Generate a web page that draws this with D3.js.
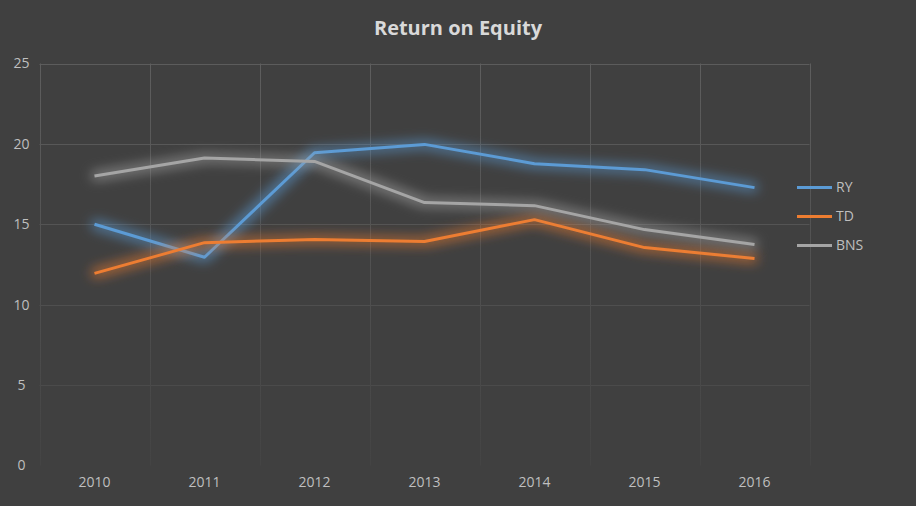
<!DOCTYPE html>
<html><head><meta charset="utf-8">
<script src="https://cdn.jsdelivr.net/npm/d3@7/dist/d3.min.js"></script>
<style>
html,body{margin:0;padding:0;background:#404040;}
svg{display:block;font-family:"Open Sans","Noto Sans",sans-serif;}
</style></head><body>
<svg id="c" width="916" height="506"></svg>
<script>
const years = ["2010","2011","2012","2013","2014","2015","2016"];
const ryValues  = [15.0, 12.95, 19.45, 19.97, 18.77, 18.4, 17.28];
const tdValues  = [11.95, 13.86, 14.05, 13.93, 15.29, 13.55, 12.87];
const bnsValues = [18.0, 19.12, 18.91, 16.35, 16.16, 14.67, 13.74];
const seriesNames = ["RY","TD","BNS"];
const seriesColors = ["#5b9bd5","#ed7d31","#a5a5a5"];
const yTicks = [0,5,10,15,20,25];
const title = "Return on Equity";

const series = [
  {name: seriesNames[0], values: ryValues, color: seriesColors[0]},
  {name: seriesNames[1], values: tdValues, color: seriesColors[1]},
  {name: seriesNames[2], values: bnsValues, color: seriesColors[2]}
];

const svg = d3.select("#c");
const L = 39.5, R = 809.5, T = 63.5, B = 465.5;
const x = d3.scaleBand().domain(years).range([L, R]);
const y = d3.scaleLinear().domain([0, 25]).range([B, T]);

const defs = svg.append("defs");
const gV = defs.append("linearGradient").attr("id","gv").attr("gradientUnits","userSpaceOnUse")
  .attr("x1",0).attr("y1",T).attr("x2",0).attr("y2",B);
gV.append("stop").attr("offset","0").attr("stop-color","#5e5e5e");
gV.append("stop").attr("offset","1").attr("stop-color","#444444");

series.forEach((s,i)=>{
  const f = defs.append("filter").attr("id","glow"+i)
    .attr("x","-10%").attr("y","-50%").attr("width","120%").attr("height","200%");
  f.append("feMorphology").attr("in","SourceGraphic").attr("operator","dilate").attr("radius",3).attr("result","d");
  f.append("feGaussianBlur").attr("in","d").attr("stdDeviation",6).attr("result","b");
  f.append("feComponentTransfer").attr("in","b").attr("result","b2")
    .append("feFuncA").attr("type","linear").attr("slope",0.6);
  const m = f.append("feMerge");
  m.append("feMergeNode").attr("in","b2");
  m.append("feMergeNode").attr("in","SourceGraphic");
});

svg.append("rect").attr("width",916).attr("height",506).attr("fill","#404040");

// horizontal gridlines
const hColor = d3.scaleLinear().domain([25,0]).range(["#5c5c5c","#474747"]);
svg.append("g").selectAll("line").data(yTicks.filter(d=>d>0)).join("line")
  .attr("x1",L).attr("x2",R).attr("y1",d=>Math.round(y(d))+0.5).attr("y2",d=>Math.round(y(d))+0.5)
  .attr("stroke",d=>hColor(d)).attr("stroke-width",1);

// vertical gridlines
const vx = years.map(d=>x(d)).concat([x(years[years.length-1])+x.bandwidth()]);
svg.append("g").selectAll("line").data(vx).join("line")
  .attr("x1",d=>Math.round(d)+0.5).attr("x2",d=>Math.round(d)+0.5)
  .attr("y1",T).attr("y2",B)
  .attr("stroke","url(#gv)").attr("stroke-width",1);

// y axis labels
const yAxis = d3.axisLeft(y).tickValues(yTicks).tickSize(0).tickPadding(0);
const ya = svg.append("g").attr("transform",`translate(${L-13},0)`).call(yAxis);
ya.attr("font-size",14).attr("font-family",null);
ya.select(".domain").remove();
ya.selectAll("text").attr("fill","#bfbfbf").attr("text-anchor","middle").attr("dx",-5);

// x axis labels
const xAxis = d3.axisBottom(x).tickSize(0).tickPadding(0);
const xa = svg.append("g").attr("transform",`translate(0,${B+12})`).call(xAxis);
xa.attr("font-size",14).attr("font-family",null);
xa.select(".domain").remove();
xa.selectAll("text").attr("fill","#bfbfbf");

// lines
const line = d3.line().x((d,i)=>x(years[i])+x.bandwidth()/2).y(d=>y(d));
series.forEach((s,i)=>{
  svg.append("path").datum(s.values).attr("d",line)
    .attr("fill","none").attr("stroke",s.color).attr("stroke-width",3)
    .attr("stroke-linejoin","round").attr("filter",`url(#glow${i})`);
});

// legend
const lg = svg.append("g");
series.forEach((s,i)=>{
  const ly = 187.5 + i*29;
  lg.append("line").attr("x1",797).attr("x2",832).attr("y1",ly).attr("y2",ly)
    .attr("stroke",s.color).attr("stroke-width",3);
  lg.append("text").attr("x",836).attr("y",ly).attr("dy","0.35em")
    .attr("fill","#bfbfbf").attr("font-size",14).text(s.name);
});

// title
svg.append("text").attr("x",458).attr("y",28).attr("dy","0.35em").attr("text-anchor","middle")
  .attr("fill","#d9d9d9").attr("font-size",20).attr("font-weight","bold").text(title);
</script>
</body></html>
